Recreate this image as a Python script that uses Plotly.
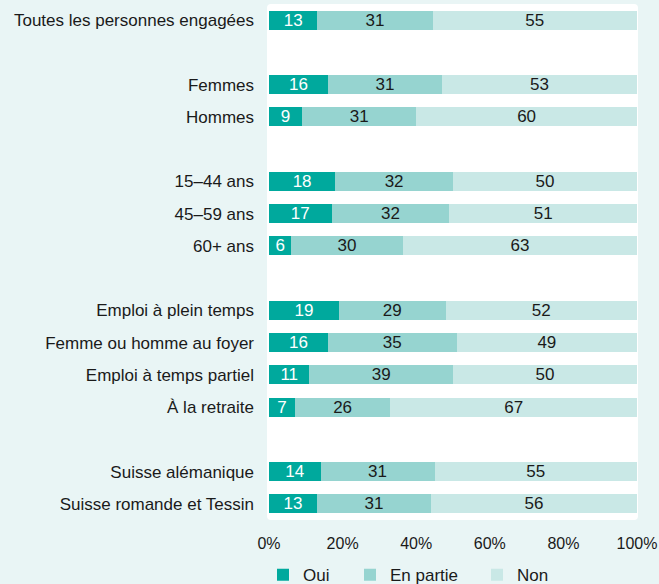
import plotly.graph_objects as go

groups = [
    ["Toutes les personnes engagées"],
    ["Femmes", "Hommes"],
    ["15–44 ans", "45–59 ans", "60+ ans"],
    ["Emploi à plein temps", "Femme ou homme au foyer", "Emploi à temps partiel", "À la retraite"],
    ["Suisse alémanique", "Suisse romande et Tessin"],
]
oui = [13, 16, 9, 18, 17, 6, 19, 16, 11, 7, 14, 13]
en_partie = [31, 31, 31, 32, 32, 30, 29, 35, 39, 26, 31, 31]
non = [55, 53, 60, 50, 51, 63, 52, 49, 50, 67, 55, 56]
series_names = ["Oui", "En partie", "Non"]
colors = ["#00a99d", "#96d4d0", "#c9e8e6"]
text_colors = ["white", "#1a1a1a", "#1a1a1a"]
xticks = [0, 20, 40, 60, 80, 100]

# row positions with one blank slot between groups
labels, pos = [], []
p = 0
for gi, g in enumerate(groups):
    if gi > 0:
        p += 1
    for lab in g:
        labels.append(lab)
        pos.append(p)
        p += 1
n_slots = p

font = "Liberation Sans, Arial, sans-serif"
legend_ids = ["legend", "legend2", "legend3"]
fig = go.Figure()
for name, vals, c, tc, lg in zip(series_names, [oui, en_partie, non], colors, text_colors, legend_ids):
    fig.add_trace(go.Bar(
        y=pos, x=vals, orientation="h", name=name, legend=lg, showlegend=True,
        marker=dict(color=c, line=dict(width=0)),
        text=[str(v) for v in vals], textposition="inside",
        insidetextanchor="middle", textangle=0,
        textfont=dict(color=tc, size=17, family=font),
        hoverinfo="skip",
    ))

W, H = 368, 516
rx, ry = 4 / W, 4 / H
x0, x1 = -2 / W, 1 + 1 / W
y0, y1 = 0, 1
path = (f"M{x0+rx},{y0} L{x1-rx},{y0} Q{x1},{y0} {x1},{y0+ry} L{x1},{y1-ry} Q{x1},{y1} {x1-rx},{y1} "
        f"L{x0+rx},{y1} Q{x0},{y1} {x0},{y1-ry} L{x0},{y0+ry} Q{x0},{y0} {x0+rx},{y0} Z")

def leg(xpos):
    return dict(orientation="h", xref="container", x=xpos, xanchor="left",
                y=-0.107, yanchor="middle",
                font=dict(size=17), bgcolor="rgba(0,0,0,0)", itemwidth=30)

fig.update_layout(
    width=659, height=584,
    showlegend=True,
    margin=dict(l=269, r=22, t=4, b=64, autoexpand=False),
    paper_bgcolor="#e9f5f5",
    plot_bgcolor="rgba(0,0,0,0)",
    barmode="stack", barnorm="percent", bargap=0.41,
    font=dict(family=font, size=17, color="#1a1a1a"),
    shapes=[dict(type="path", xref="paper", yref="paper", path=path,
                 fillcolor="white", line=dict(width=0), layer="below")],
    xaxis=dict(range=[0, 100], tickvals=xticks, ticktext=[f"{t}%" for t in xticks],
               showgrid=False, zeroline=False, showline=False, automargin=False,
               tickfont=dict(size=16), ticklabelstandoff=12, fixedrange=True),
    yaxis=dict(range=[n_slots - 0.5, -0.5], tickvals=pos, ticktext=labels,
               showgrid=False, zeroline=False, showline=False, automargin=False,
               tickfont=dict(size=17), ticklabelstandoff=14, fixedrange=True),
    legend=leg(263 / 659),
    legend2=leg(350 / 659),
    legend3=leg(477 / 659),
    uniformtext=dict(minsize=17, mode="show"),
)

fig.write_html("out.html", config={"displayModeBar": False},
               post_script="document.body.style.margin='0px';document.body.style.padding='0px';")
